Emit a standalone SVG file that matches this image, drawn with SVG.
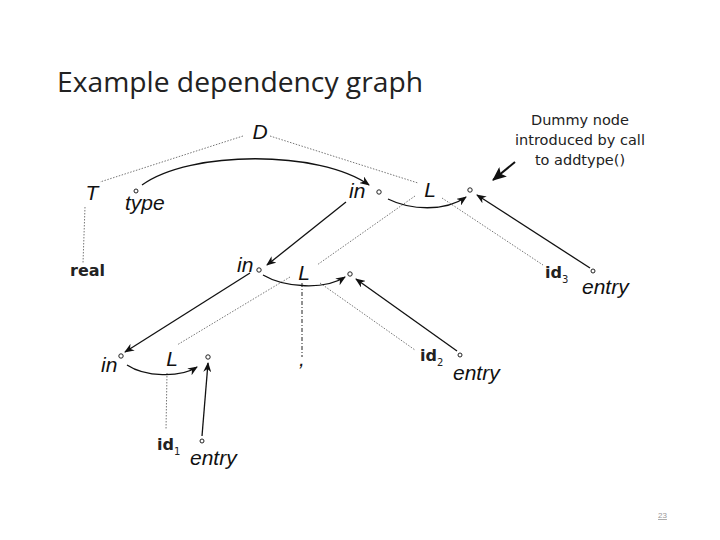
<svg xmlns="http://www.w3.org/2000/svg" width="720" height="540" viewBox="0 0 720 540">
<defs>
<marker id="ah" markerWidth="10" markerHeight="8" refX="9" refY="4" orient="auto" markerUnits="userSpaceOnUse">
<path d="M0,0 L10,4 L0,8 L3,4 Z" fill="#111"/>
</marker>
<marker id="ahb" markerWidth="14" markerHeight="12" refX="13" refY="6" orient="auto" markerUnits="userSpaceOnUse">
<path d="M0,0 L14,6 L0,12 L3,6 Z" fill="#111"/>
</marker>
</defs>
<style>
.lbl{font-family:"Liberation Sans","DejaVu Sans",sans-serif;font-style:italic;font-size:21px;fill:#111}
.tok{font-family:"DejaVu Sans","Liberation Sans",sans-serif;font-weight:bold;font-size:16px;fill:#222}
.sub{font-size:10px;font-weight:normal}
.note{font-family:"DejaVu Sans","Liberation Sans",sans-serif;font-size:14.5px;fill:#222}
.dot{fill:none;stroke:#777;stroke-width:1;stroke-dasharray:1.5,1.5}
.arr{fill:none;stroke:#111;stroke-width:1.3;marker-end:url(#ah)}
.circ{fill:#fff;stroke:#222;stroke-width:1}
</style>
<rect width="720" height="540" fill="#fff"/>
<text x="57" y="92" font-family="Open Sans,Liberation Sans,sans-serif" font-size="27" fill="#222" textLength="366" lengthAdjust="spacingAndGlyphs">Example dependency graph</text>

<g id="connectors">
<line class="dot" x1="243" y1="136" x2="100" y2="182"/>
<line class="dot" x1="270" y1="136" x2="418" y2="183"/>
<line class="dot" x1="85" y1="207" x2="83" y2="263"/>
<line class="dot" x1="415" y1="196" x2="317" y2="265"/>
<line class="dot" x1="442" y1="198" x2="543" y2="265"/>
<line class="dot" x1="290" y1="277" x2="177" y2="345"/>
<line class="dot" x1="320" y1="283" x2="415" y2="350"/>
<line class="dot" x1="167" y1="373" x2="166" y2="430"/>
<line x1="302" y1="283" x2="302" y2="357" stroke="#222" stroke-width="1" stroke-dasharray="4,2,1,2"/>
<path class="arr" d="M142,185 C190,150 320,150 369,185"/>
<path class="arr" d="M388,199 C410,210 445,212 466,197"/>
<path class="arr" d="M263,275 C285,288 325,290 345,277"/>
<path class="arr" d="M127,365 C145,377 180,378 197,367"/>
<line class="arr" x1="346" y1="202" x2="267" y2="265"/>
<line class="arr" x1="250" y1="273" x2="125" y2="352"/>
<line class="arr" x1="590" y1="268" x2="477" y2="195"/>
<line class="arr" x1="457" y1="351" x2="356" y2="279"/>
<line class="arr" x1="202" y1="436" x2="208" y2="363"/>
<line x1="515" y1="162" x2="493" y2="180" stroke="#111" stroke-width="2" marker-end="url(#ahb)"/>
</g>

<g id="D"><text class="lbl" x="260" y="139" text-anchor="middle">D</text></g>
<g id="T"><text class="lbl" x="92" y="200" text-anchor="middle">T</text></g>
<g id="type"><circle class="circ" cx="136" cy="191" r="2"/><text class="lbl" x="125" y="210">type</text></g>
<g id="real"><text class="tok" x="70" y="276">real</text></g>
<g id="in1"><text class="lbl" x="349" y="198">in</text><circle class="circ" cx="379" cy="192" r="2.2"/></g>
<g id="L1"><text class="lbl" x="430" y="197" text-anchor="middle">L</text></g>
<g id="dummy1"><circle class="circ" cx="470" cy="190" r="2.2"/></g>
<g id="note"><text class="note" text-anchor="middle"><tspan x="580" y="125">Dummy node</tspan><tspan x="580" y="145">introduced by call</tspan><tspan x="580" y="165">to addtype()</tspan></text></g>
<g id="id3"><text class="tok" x="545" y="278">id<tspan class="sub" dy="5">3</tspan></text></g>
<g id="entry3"><circle class="circ" cx="593" cy="271" r="2"/><text class="lbl" x="582" y="294">entry</text></g>
<g id="in2"><text class="lbl" x="237" y="272">in</text><circle class="circ" cx="259" cy="270" r="2.2"/></g>
<g id="L2"><text class="lbl" x="304" y="280" text-anchor="middle">L</text></g>
<g id="dummy2"><circle class="circ" cx="350" cy="274" r="2.2"/></g>
<g id="comma"><text class="lbl" x="299" y="366">,</text></g>
<g id="id2"><text class="tok" x="420" y="361">id<tspan class="sub" dy="5">2</tspan></text></g>
<g id="entry2"><circle class="circ" cx="460" cy="355" r="2"/><text class="lbl" x="453" y="380">entry</text></g>
<g id="in3"><text class="lbl" x="101" y="372">in</text><circle class="circ" cx="121" cy="356" r="2.2"/></g>
<g id="L3"><text class="lbl" x="172" y="366" text-anchor="middle">L</text></g>
<g id="dummy3"><circle class="circ" cx="208" cy="357" r="2.2"/></g>
<g id="id1"><text class="tok" x="157" y="450">id<tspan class="sub" dy="5">1</tspan></text></g>
<g id="entry1"><circle class="circ" cx="202" cy="441" r="2"/><text class="lbl" x="190" y="465">entry</text></g>
<g id="page"><text x="658" y="518" font-family="Liberation Sans,sans-serif" font-size="8" fill="#999" text-decoration="underline">23</text></g>
</svg>
